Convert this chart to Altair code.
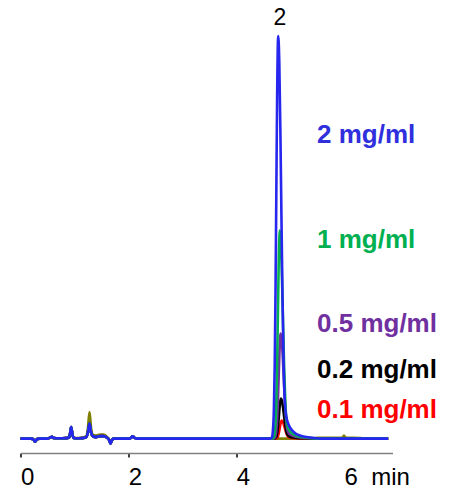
import altair as alt
import pandas as pd

# ---- data (retention time in min, signal in arbitrary units) ----
early_t = [0.00, 0.18, 0.23, 0.27, 0.31, 0.36, 0.50, 0.55, 0.58, 0.62, 0.70, 0.85, 0.90, 0.92,
           0.94, 0.96, 0.98, 1.02, 1.15, 1.22, 1.25, 1.28, 1.31, 1.34, 1.40, 1.48, 1.54, 1.60,
           1.64, 1.67, 1.70, 1.74, 1.85, 2.02, 2.05, 2.08, 2.11, 2.15, 2.40]
early_main = [0, 0, -0.5, -3, -0.5, 0, 0, 1, 1.8, 0.5, 0.3, 0.5, 1, 5,
              11.5, 5, 1, 0.3, 0.5, 1.5, 6, 15, 6, 2.5, 1.5, 2.5, 2.5, 1,
              -1, -5, -1, 0, 0, 0, 1, 2.3, 1, 0, 0]
early_blank = [0, 0, -0.5, -2.5, -0.5, 0, 0, 1, 1.8, 0.5, 0.3, 0.5, 1, 5,
               11, 5, 1.5, 0.5, 0.8, 2.5, 10, 26.5, 10, 4, 3, 4, 4, 2,
               -0.5, -4, -1, 0, 0, 0, 1, 2.3, 1, 0, 0]

blue_t = [4.63, 4.66, 4.68, 4.70, 4.715, 4.73, 4.745, 4.76, 4.78, 4.80, 4.82, 4.84, 4.86,
          4.88, 4.90, 4.93, 4.98, 5.06, 5.18, 5.38, 5.58]
blue_v = [0, 1, 6.8, 29.5, 72, 145, 244, 341, 402, 376, 309, 222, 140, 77, 40, 22, 13, 7, 3, 1, 0]

green_t = [4.66, 4.69, 4.71, 4.73, 4.745, 4.76, 4.775, 4.79, 4.81, 4.83, 4.85, 4.87, 4.89,
           4.91, 4.93, 4.96, 5.01, 5.09, 5.21, 5.41, 5.61]
green_v = [0, 0.5, 3.5, 15, 37, 75, 126, 177, 208, 195, 160, 115, 72, 40, 20, 11, 6.5, 3.5, 1.5, 0.5, 0]

purple_t = [4.675, 4.705, 4.725, 4.745, 4.76, 4.775, 4.79, 4.805, 4.825, 4.845, 4.865, 4.885,
            4.905, 4.925, 4.945, 4.975, 5.025, 5.105, 5.225, 5.425, 5.625]
purple_v = [0, 0.3, 2, 8, 19, 38, 64, 89, 105, 98, 81, 58, 36, 20, 10, 5.5, 3.3, 1.8, 0.8, 0.3, 0]

black_t = [4.68, 4.71, 4.73, 4.75, 4.765, 4.78, 4.795, 4.81, 4.83, 4.85, 4.87, 4.89, 4.91,
           4.93, 4.95, 4.98, 5.03, 5.11, 5.23, 5.43, 5.63]
black_v = [0, 0.1, 0.7, 3, 7, 14.4, 24, 34, 40, 37.4, 30.7, 22, 14, 7.6, 4, 2.2, 1.3, 0.7, 0.3, 0.1, 0]

red_t = [4.695, 4.725, 4.745, 4.765, 4.78, 4.795, 4.81, 4.825, 4.845, 4.865, 4.885, 4.905,
         4.925, 4.945, 4.965, 4.995, 5.045, 5.125, 5.245, 5.445, 5.645]
red_v = [0, 0.05, 0.3, 1.3, 3.2, 6.5, 11, 15.3, 18, 16.8, 13.8, 10, 6.2, 3.4, 1.8, 1, 0.6, 0.3, 0.1, 0.05, 0]

blank_late_t = [5.40, 5.50, 5.90, 5.97, 6.00, 6.03, 6.30, 6.40, 6.82]
blank_late_v = [0, 0.8, 0.8, 1, 3, 1, 0.6, 0, 0]

end_t = 6.82

series_names = ["blank", "0.1 mg/ml", "0.2 mg/ml", "0.5 mg/ml", "1 mg/ml", "2 mg/ml"]
series_colors = ["#808000", "#ff0000", "#000000", "#7030a0", "#00b050", "#2626ee"]
series_widths = [2.6, 2.6, 2.6, 2.6, 2.6, 3.0]

label_text = ["2 mg/ml", "1 mg/ml", "0.5 mg/ml", "0.2 mg/ml", "0.1 mg/ml"]
label_color = ["#2f2fdd", "#00b050", "#7030a0", "#000000", "#ff0000"]
label_y = [295, 190.8, 106.6, 60.6, 20.6]
label_x = 5.50

peak_label = "2"
peak_label_x = 4.81
peak_label_y = 413.5

# ---- build table ----
rows = []
def add(name, order, ts, vs):
    for t, v in zip(ts, vs):
        rows.append({"series": name, "order": order, "t": t, "v": v})

peaks = {
    "0.1 mg/ml": (red_t, red_v),
    "0.2 mg/ml": (black_t, black_v),
    "0.5 mg/ml": (purple_t, purple_v),
    "1 mg/ml": (green_t, green_v),
    "2 mg/ml": (blue_t, blue_v),
}
add("blank", 0, early_t, early_blank)
add("blank", 0, blank_late_t, blank_late_v)
for i, name in enumerate(series_names[1:], start=1):
    add(name, i, early_t, early_main)
    pt, pv = peaks[name]
    add(name, i, pt, pv)
    add(name, i, [end_t], [0])

df = pd.DataFrame(rows)

labels_df = pd.DataFrame({"text": label_text, "color": label_color,
                          "y": label_y, "x": [label_x] * len(label_text)})
peak_df = pd.DataFrame({"text": [peak_label], "x": [peak_label_x], "y": [peak_label_y]})

xscale = alt.Scale(domain=[0, 6.9], nice=False, zero=False)
yscale = alt.Scale(domain=[-14.4, 418], nice=False, zero=False)

x_axis = alt.Axis(
    values=[0, 2, 4, 6], grid=False, domainColor="#808080", domainWidth=1.5,
    tickColor={"condition": {"test": "datum.value == 6", "value": "transparent"}, "value": "#000000"},
    tickSize=4, tickWidth=1.5, labelFontSize=24, labelFont="Liberation Sans",
    labelColor="#000000", labelAlign="left", labelPadding=8,
    labelExpr="datum.value == 6 ? '6\u00a0\u00a0min' : format(datum.value, 'd')", title=None,
    labelFlush=False, labelOverlap=False,
)

lines = alt.Chart(df).mark_line(interpolate="monotone", clip=False).encode(
    x=alt.X("t:Q", scale=xscale, axis=x_axis),
    y=alt.Y("v:Q", scale=yscale, axis=None),
    color=alt.Color("series:N", scale=alt.Scale(domain=series_names, range=series_colors), legend=None),
    strokeWidth=alt.StrokeWidth("series:N", scale=alt.Scale(domain=series_names, range=series_widths), legend=None),
    detail="series:N",
    order=alt.Order("order:Q"),
)

texts = alt.Chart(labels_df).mark_text(
    align="left", baseline="alphabetic", fontSize=26, fontWeight="bold", font="Liberation Sans"
).encode(
    x=alt.X("x:Q", scale=xscale),
    y=alt.Y("y:Q", scale=yscale),
    text="text:N",
    color=alt.Color("color:N", scale=None),
)

peak_txt = alt.Chart(peak_df).mark_text(
    align="center", baseline="alphabetic", fontSize=23, font="Liberation Sans", color="#000000"
).encode(
    x=alt.X("x:Q", scale=xscale),
    y=alt.Y("y:Q", scale=yscale),
    text="text:N",
)

chart = alt.layer(lines, texts, peak_txt).properties(
    width=372, height=433,
    autosize=alt.AutoSizeParams(type="none"),
    padding={"left": 12.5, "top": 12, "right": 49.5, "bottom": 40},
).configure_view(stroke=None)

chart.save("out.html", embed_options={"renderer": "svg", "actions": False})
